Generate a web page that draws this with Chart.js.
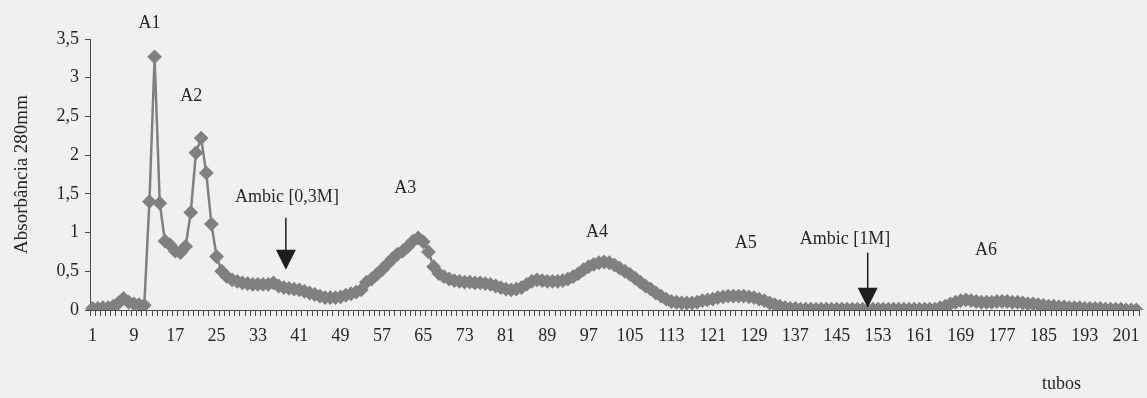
<!DOCTYPE html>
<html>
<head>
<meta charset="utf-8">
<script src="https://cdn.jsdelivr.net/npm/chart.js@4.4.0/dist/chart.umd.min.js"></script>
<style>
  html, body { margin: 0; padding: 0; background: #f0f0ee; }
</style>
</head>
<body>
<canvas id="grafico" width="1147" height="398"></canvas>
<script>
const absorbancia = [
    0.02, 0.02, 0.03, 0.03, 0.05, 0.09, 0.15, 0.10, 0.08, 0.07, 0.06,
    1.40, 3.27, 1.38, 0.89, 0.84, 0.76, 0.74, 0.82, 1.26, 2.03, 2.22, 1.77, 1.11, 0.69,
    0.50, 0.43, 0.39, 0.37, 0.35, 0.34, 0.33, 0.33, 0.33, 0.33, 0.35,
    0.31, 0.29, 0.28, 0.27, 0.26, 0.24, 0.22, 0.20, 0.18, 0.16, 0.16, 0.16, 0.17, 0.19, 0.21, 0.23, 0.26,
    0.36, 0.40, 0.46, 0.52, 0.59, 0.66, 0.72, 0.76, 0.82, 0.89, 0.93, 0.88, 0.75, 0.56,
    0.47, 0.43, 0.40, 0.38, 0.37, 0.36, 0.36, 0.35, 0.35, 0.34, 0.33, 0.31, 0.29, 0.27, 0.26, 0.27,
    0.29, 0.33, 0.37, 0.39, 0.38, 0.37, 0.37, 0.37, 0.38, 0.40,
    0.43, 0.47, 0.52, 0.56, 0.59, 0.61, 0.62, 0.61, 0.58, 0.54, 0.50, 0.46, 0.41, 0.36, 0.31,
    0.27, 0.22, 0.18, 0.14, 0.11, 0.10, 0.09, 0.09, 0.09, 0.10, 0.12, 0.13, 0.14, 0.16, 0.17,
    0.18, 0.18, 0.18, 0.18, 0.17, 0.16, 0.14, 0.12, 0.09, 0.07, 0.05, 0.03, 0.02,
    0.02, 0.01, 0.01, 0.01, 0.01, 0.01, 0.01, 0.01, 0.01, 0.01, 0.01, 0.01, 0.01, 0.01,
    0.00, 0.01, 0.01, 0.01, 0.01, 0.01, 0.01, 0.01, 0.01, 0.01, 0.01, 0.01, 0.01,
    0.01, 0.03, 0.05, 0.08, 0.10, 0.12, 0.13, 0.12, 0.11, 0.10, 0.10, 0.10, 0.11, 0.11,
    0.11, 0.10, 0.10, 0.09, 0.08, 0.08, 0.07, 0.06, 0.05, 0.05, 0.04, 0.04, 0.03,
    0.03, 0.03, 0.02, 0.02, 0.02, 0.02, 0.01, 0.01, 0.01, 0.01, 0.00, 0.00, 0.00
];
// tubos 1..203
const tubos = absorbancia.map((v, i) => String(i + 1));
const rotulosX = ['1', '9', '17', '25', '33', '41', '49', '57', '65', '73', '81', '89', '97', '105',
    '113', '121', '129', '137', '145', '153', '161', '169', '177', '185', '193', '201'];
const rotulosY = ['0', '0,5', '1', '1,5', '2', '2,5', '3', '3,5'];

// Rotulos dos picos: [texto, tubo, altura]
const picos = [
    ['A1', 12.0, 3.70],
    ['A2', 20.1, 2.76],
    ['A3', 61.5, 1.57],
    ['A4', 98.6, 1.01],
    ['A5', 127.4, 0.86],
    ['A6', 173.9, 0.77]
];
// Eluicoes: [texto, tubo do texto, altura do texto, tubo da seta, topo da seta, ponta da seta]
const eluicoes = [
    ['Ambic [0,3M]', 38.6, 1.45, 38.4, 1.19, 0.52],
    ['Ambic [1M]', 146.6, 0.92, 151.0, 0.74, 0.03]
];

const corTexto = '#262626';
const corLinha = '#808080';
const corEixo = '#4a4a4a';

Chart.defaults.font.family = '"Liberation Serif", "Times New Roman", serif';
Chart.defaults.font.size = 18;
Chart.defaults.color = corTexto;

//Anotacoes (picos, setas e titulo do eixo x)
const anotacoes = {
    id: 'anotacoes',
    afterDatasetsDraw(chart) {
        const { ctx, chartArea, scales: { x, y } } = chart;
        const px = (tubo) => x.getPixelForValue(tubo - 1);
        ctx.save();
        ctx.fillStyle = corTexto;
        ctx.strokeStyle = '#1e1e1e';
        ctx.font = '18px "Liberation Serif"';
        ctx.textAlign = 'center';
        ctx.textBaseline = 'middle';

        picos.forEach(([txt, t, v]) => ctx.fillText(txt, px(t), y.getPixelForValue(v)));

        eluicoes.forEach(([txt, t, v, ts, topo, ponta]) => {
            ctx.fillText(txt, px(t), y.getPixelForValue(v));
            const xs = px(ts);
            const yTopo = y.getPixelForValue(topo);
            const yPonta = y.getPixelForValue(ponta);
            ctx.beginPath();
            ctx.lineWidth = 1.5;
            ctx.moveTo(xs, yTopo);
            ctx.lineTo(xs, yPonta - 18);
            ctx.stroke();
            ctx.beginPath();
            ctx.fillStyle = '#1e1e1e';
            ctx.moveTo(xs - 10, yPonta - 20);
            ctx.lineTo(xs + 10, yPonta - 20);
            ctx.lineTo(xs, yPonta);
            ctx.closePath();
            ctx.fill();
            ctx.fillStyle = corTexto;
        });

        ctx.fillText('tubos', px(188.5), chartArea.bottom + 74);
        ctx.restore();
    }
};

new Chart(document.getElementById('grafico'), {
    type: 'line',
    data: {
        labels: tubos,
        datasets: [{
            data: absorbancia,
            borderColor: corLinha,
            backgroundColor: corLinha,
            borderWidth: 2.5,
            pointStyle: 'rectRot',
            pointRadius: 6,
            pointBorderWidth: 2,
            pointBackgroundColor: corLinha,
            pointBorderColor: corLinha,
            tension: 0
        }]
    },
    options: {
        responsive: false,
        animation: false,
        layout: { padding: { top: 39, right: 1, left: 0, bottom: 0 } },
        plugins: {
            legend: { display: false },
            tooltip: { enabled: false }
        },
        scales: {
            x: {
                offset: true,
                grid: {
                    drawOnChartArea: false,
                    drawTicks: true,
                    tickLength: 6,
                    color: corEixo,
                    offset: true
                },
                border: { display: true, color: corEixo, width: 1 },
                ticks: {
                    autoSkip: false,
                    maxRotation: 0,
                    padding: 9,
                    callback: (v, i) => rotulosX.includes(tubos[i]) ? tubos[i] : ''
                },
                afterFit(s) { s.height = 88; }
            },
            y: {
                min: 0,
                max: 3.5,
                grid: {
                    drawOnChartArea: false,
                    tickLength: 5,
                    color: corEixo
                },
                border: { display: true, color: corEixo, width: 1 },
                ticks: {
                    stepSize: 0.5,
                    padding: 6,
                    callback: (v, i) => rotulosY[i]
                },
                title: {
                    display: true,
                    text: 'Absorbância 280mm',
                    font: { size: 19 },
                    padding: { top: 11 }
                },
                afterFit(s) { s.width = 90; }
            }
        }
    },
    plugins: [anotacoes]
});
</script>
</body>
</html>
